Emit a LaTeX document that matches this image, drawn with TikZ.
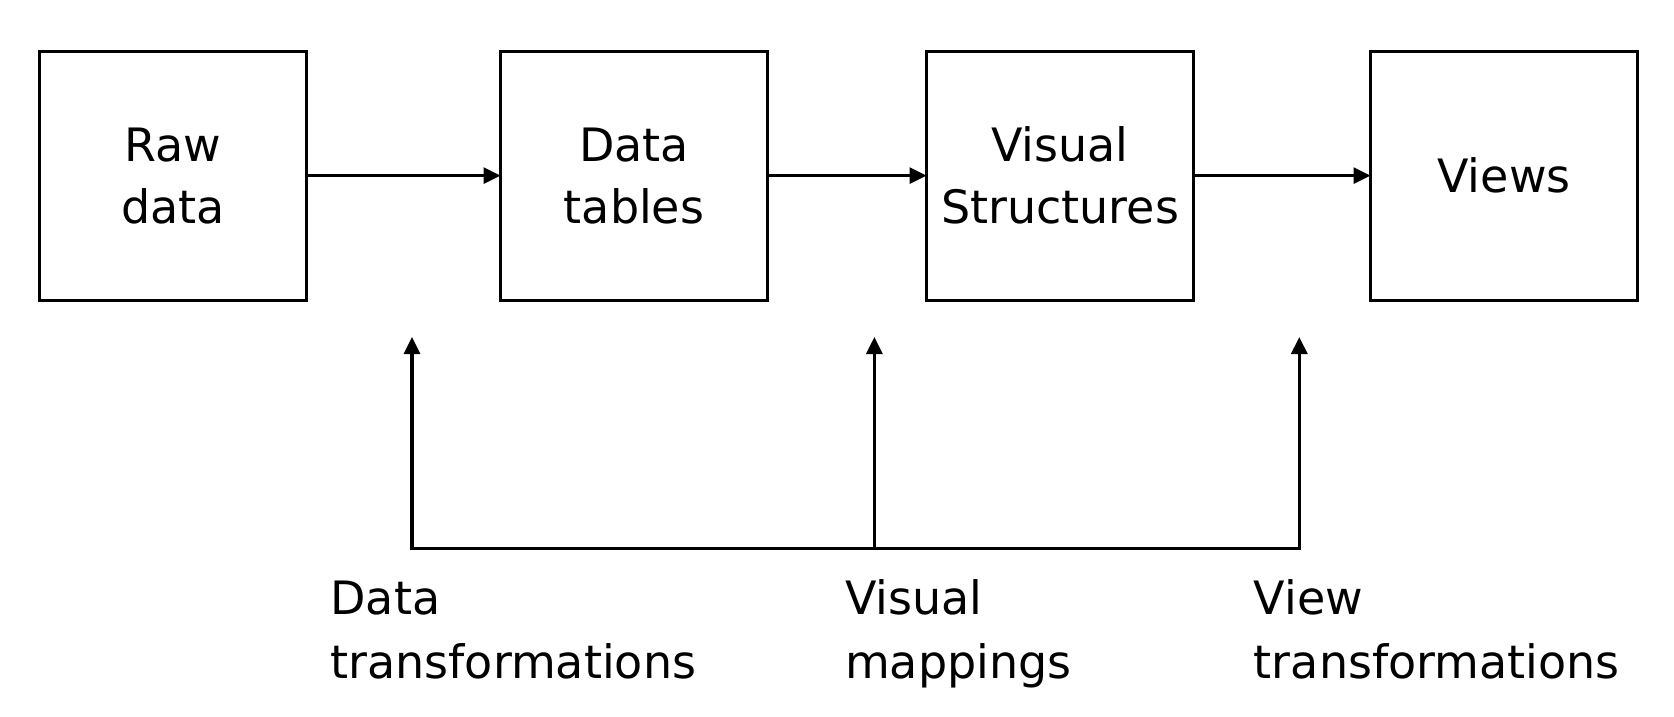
\documentclass[tikz,border=0pt]{standalone}
\usepackage{fontspec}
\setmainfont{DejaVu Sans}
\usetikzlibrary{arrows.meta}
\usetikzlibrary{positioning}

\tikzset{
  stage/.style={draw, line width=3.2pt, outer sep=0pt, minimum width=267pt, minimum height=249pt,
    align=center, inner sep=0pt, font=\fontsize{46}{62}\selectfont},
  oplabel/.style={anchor=base west, align=left, inner sep=0pt, font=\fontsize{46}{64}\selectfont}
}

\begin{document}
\begin{tikzpicture}[x=1pt, y=-1pt, line width=3.2pt, >={Triangle[length=17pt,width=16pt]}]
\useasboundingbox (0,0) rectangle (1674,716);
\node[stage] (raw) at (173,175.6) {Raw\\data};
\node[stage, right=194pt of raw] (tables) {Data\\tables};
\node[stage, right=159pt of tables] (structs) {Visual\\Structures};
\node[stage, right=177pt of structs] (views) {Views};
\draw[->] (raw) -- (tables);
\draw[->] (tables) -- (structs);
\draw[->] (structs) -- (views);
% operations below the pipeline
\coordinate (dtop) at (412,337);
\coordinate (vtop) at (874.4,337);
\coordinate (wtop) at (1299.3,337);
\coordinate (dbot) at (412,548.7);
\coordinate (vbot) at (874.4,548.7);
\coordinate (wbot) at (1299.3,548.7);
\draw[<->] (dtop) -- (dbot) -- (wbot) -- (wtop);
\draw[->] (vbot) -- (vtop);
\node[oplabel] (dtrans) at (328.8,678) {Data\\transformations};
\node[oplabel] (vmaps) at (843.4,678) {Visual\\mappings};
\node[oplabel] (wtrans) at (1252.3,678) {View\\transformations};
\end{tikzpicture}
\end{document}
